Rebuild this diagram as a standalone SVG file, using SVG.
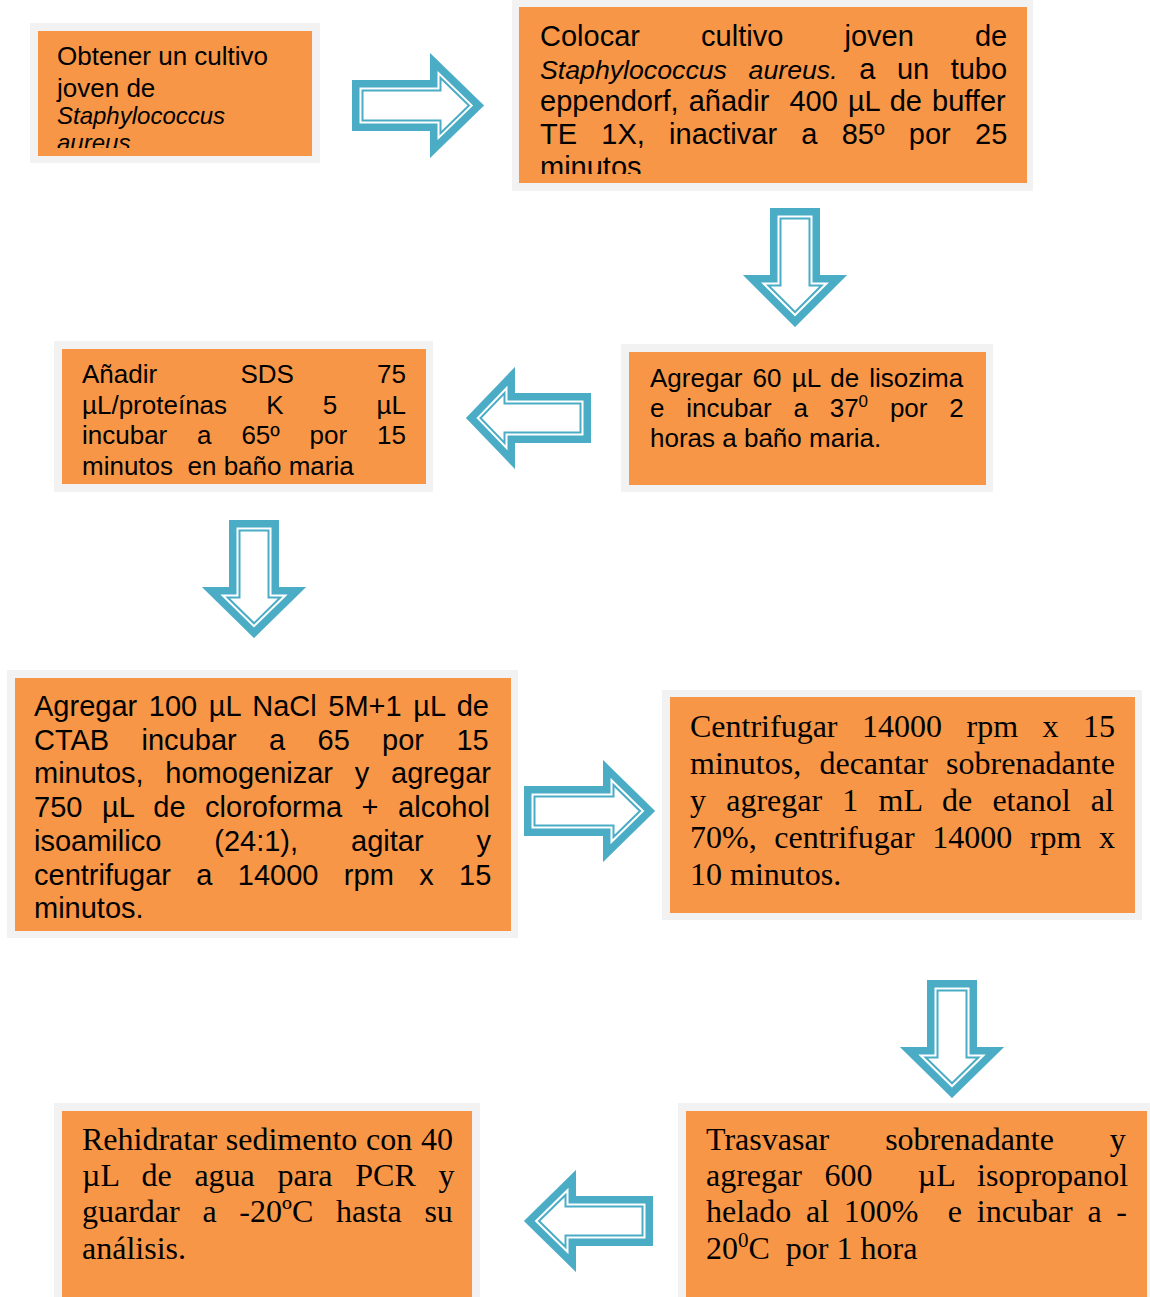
<svg xmlns="http://www.w3.org/2000/svg" xmlns:xlink="http://www.w3.org/1999/xlink" width="1150" height="1297" viewBox="0 0 1150 1297">
<style>
.frame{fill:#F2F2F2}
.box{fill:#F79646}
.sans{font-family:"Liberation Sans",Arial,sans-serif;fill:#000;white-space:pre}
.serif{font-family:"Liberation Serif","Times New Roman",serif;fill:#000;white-space:pre}
.it{font-style:italic}
.s26{font-size:26px}
.s29{font-size:29px}
.s32{font-size:32px}
.a1{fill:#fff;stroke:#4BACC6;stroke-width:23;stroke-miterlimit:10}
.a2{fill:none;stroke:#fff;stroke-width:19;stroke-miterlimit:10}
.a3{fill:none;stroke:#4BACC6;stroke-width:15;stroke-miterlimit:10}
</style>
<defs>
<polygon id="p1" points="352,80 430,80 430,53 484,105.5 430,158 430,131 352,131"/>
<polygon id="p2" points="770,208 820,208 820,275 847,275 795,327 743,275 770,275"/>
<polygon id="p3" points="466,418 515,367 515,393 591,393 591,443 515,443 515,469"/>
<polygon id="p4" points="229,520 279,520 279,587 306,587 254,638 202,587 229,587"/>
<polygon id="p5" points="524,786 603,786 603,760 655,811 603,862 603,836 524,836"/>
<polygon id="p6" points="927,980 977,980 977,1047 1004,1047 952,1098 900,1047 927,1047"/>
<polygon id="p7" points="524,1221 576,1170 576,1196 653,1196 653,1246 576,1246 576,1272"/>
<clipPath id="c1"><use xlink:href="#p1"/></clipPath>
<clipPath id="c2"><use xlink:href="#p2"/></clipPath>
<clipPath id="c3"><use xlink:href="#p3"/></clipPath>
<clipPath id="c4"><use xlink:href="#p4"/></clipPath>
<clipPath id="c5"><use xlink:href="#p5"/></clipPath>
<clipPath id="c6"><use xlink:href="#p6"/></clipPath>
<clipPath id="c7"><use xlink:href="#p7"/></clipPath>
<clipPath id="t1"><rect x="38" y="31" width="274" height="117"/></clipPath>
<clipPath id="t2"><rect x="519" y="7" width="508" height="167"/></clipPath>
</defs>
<rect width="1150" height="1297" fill="#fff"/>

<g id="connectors">
<g id="arrow1" clip-path="url(#c1)"><use xlink:href="#p1" class="a1"/><use xlink:href="#p1" class="a2"/><use xlink:href="#p1" class="a3"/></g>
<g id="arrow2" clip-path="url(#c2)"><use xlink:href="#p2" class="a1"/><use xlink:href="#p2" class="a2"/><use xlink:href="#p2" class="a3"/></g>
<g id="arrow3" clip-path="url(#c3)"><use xlink:href="#p3" class="a1"/><use xlink:href="#p3" class="a2"/><use xlink:href="#p3" class="a3"/></g>
<g id="arrow4" clip-path="url(#c4)"><use xlink:href="#p4" class="a1"/><use xlink:href="#p4" class="a2"/><use xlink:href="#p4" class="a3"/></g>
<g id="arrow5" clip-path="url(#c5)"><use xlink:href="#p5" class="a1"/><use xlink:href="#p5" class="a2"/><use xlink:href="#p5" class="a3"/></g>
<g id="arrow6" clip-path="url(#c6)"><use xlink:href="#p6" class="a1"/><use xlink:href="#p6" class="a2"/><use xlink:href="#p6" class="a3"/></g>
<g id="arrow7" clip-path="url(#c7)"><use xlink:href="#p7" class="a1"/><use xlink:href="#p7" class="a2"/><use xlink:href="#p7" class="a3"/></g>
</g>

<g id="node1">
<rect class="frame" x="30" y="23" width="290" height="140"/>
<rect class="box" x="38" y="31" width="274" height="125"/>
<g clip-path="url(#t1)">
<text class="sans s26" x="57" y="65">Obtener un cultivo</text>
<text class="sans s26" x="57" y="97">joven de</text>
<text class="sans it" font-size="24" x="57" y="124">Staphylococcus</text>
<text class="sans it" font-size="24" x="57" y="150.5">aureus</text>
</g>
</g>

<g id="node2">
<rect class="frame" x="512" y="0" width="521" height="191"/>
<rect class="box" x="519" y="7" width="508" height="176"/>
<g clip-path="url(#t2)">
<text class="sans s29" x="540" y="46" word-spacing="53.1">Colocar cultivo joven de</text>
<text class="sans s29" y="79"><tspan class="it" font-size="26.7" x="540">Staphylococcus</tspan><tspan class="it" font-size="26.7" x="748.6">aureus.</tspan><tspan x="859.2">a</tspan><tspan x="896.9">un</tspan><tspan x="950.7">tubo</tspan></text>
<text class="sans s29" x="540" y="111" word-spacing="2">eppendorf, añadir  400 µL de buffer</text>
<text class="sans s29" x="540" y="144" word-spacing="16.2">TE 1X, inactivar a 85º por 25</text>
<text class="sans s29" x="540" y="177">minutos</text>
</g>
</g>

<g id="node3">
<rect class="frame" x="54" y="341" width="379" height="151"/>
<rect class="box" x="62" y="349" width="364" height="135"/>
<text class="sans s26" x="82" y="383" word-spacing="76">Añadir SDS 75</text>
<text class="sans s26" x="82" y="413.7" word-spacing="32">µL/proteínas K 5 µL</text>
<text class="sans s26" x="82" y="444.3" word-spacing="22.6">incubar a 65º por 15</text>
<text class="sans s26" x="82" y="475">minutos  en baño maria</text>
</g>

<g id="node4">
<rect class="frame" x="621" y="344" width="372" height="148"/>
<rect class="box" x="629" y="352" width="357" height="133"/>
<text class="sans s26" x="650" y="387" word-spacing="2.9">Agregar 60 µL de lisozima</text>
<text class="sans s26" x="650" y="417" word-spacing="14.6">e incubar a 37<tspan font-size="17" dy="-10">0</tspan><tspan dy="10"> por 2</tspan></text>
<text class="sans s26" x="650" y="447">horas a baño maria.</text>
</g>

<g id="node5">
<rect class="frame" x="7" y="670" width="511" height="268"/>
<rect class="box" x="15" y="678" width="496" height="253"/>
<text class="sans s29" x="34" y="716" word-spacing="3.57">Agregar 100 µL NaCl 5M+1 µL de</text>
<text class="sans s29" x="34" y="749.7" word-spacing="24.3">CTAB incubar a 65 por 15</text>
<text class="sans s29" x="34" y="783.4" word-spacing="13.7">minutos, homogenizar y agregar</text>
<text class="sans s29" x="34" y="817.1" word-spacing="11.5">750 µL de cloroforma + alcohol</text>
<text class="sans s29" x="34" y="850.8" word-spacing="44.9">isoamilico (24:1), agitar y</text>
<text class="sans s29" x="34" y="884.5" word-spacing="17.3">centrifugar a 14000 rpm x 15</text>
<text class="sans s29" x="34" y="918.2">minutos.</text>
</g>

<g id="node6">
<rect class="frame" x="662" y="690" width="480" height="230"/>
<rect class="box" x="670" y="697" width="465" height="216"/>
<text class="serif s32" x="690" y="737" word-spacing="16.5">Centrifugar 14000 rpm x 15</text>
<text class="serif s32" x="690" y="774" word-spacing="10.3">minutos, decantar sobrenadante</text>
<text class="serif s32" x="690" y="811" word-spacing="12.2">y agregar 1 mL de etanol al</text>
<text class="serif s32" x="690" y="848" word-spacing="9.6">70%, centrifugar 14000 rpm x</text>
<text class="serif s32" x="690" y="885">10 minutos.</text>
</g>

<g id="node7">
<rect class="frame" x="678" y="1103" width="472" height="194"/>
<rect class="box" x="686" y="1111" width="461" height="186"/>
<text class="serif s32" x="706" y="1150" word-spacing="47.9">Trasvasar sobrenadante y</text>
<text class="serif s32" x="706" y="1186" word-spacing="14.6">agregar 600  µL isopropanol</text>
<text class="serif s32" x="706" y="1222" word-spacing="6.7">helado al 100%  e incubar a -</text>
<text class="serif s32" x="706" y="1259">20<tspan font-size="21" dy="-12">0</tspan><tspan dy="12">C  por 1 hora</tspan></text>
</g>

<g id="node8">
<rect class="frame" x="54" y="1103" width="426" height="194"/>
<rect class="box" x="62" y="1111" width="410" height="186"/>
<text class="serif s32" x="82" y="1150" word-spacing="0.7">Rehidratar sedimento con 40</text>
<text class="serif s32" x="82" y="1186" word-spacing="14.7">µL de agua para PCR y</text>
<text class="serif s32" x="82" y="1222" word-spacing="14.7">guardar a -20ºC hasta su</text>
<text class="serif s32" x="82" y="1259">análisis.</text>
</g>
</svg>
